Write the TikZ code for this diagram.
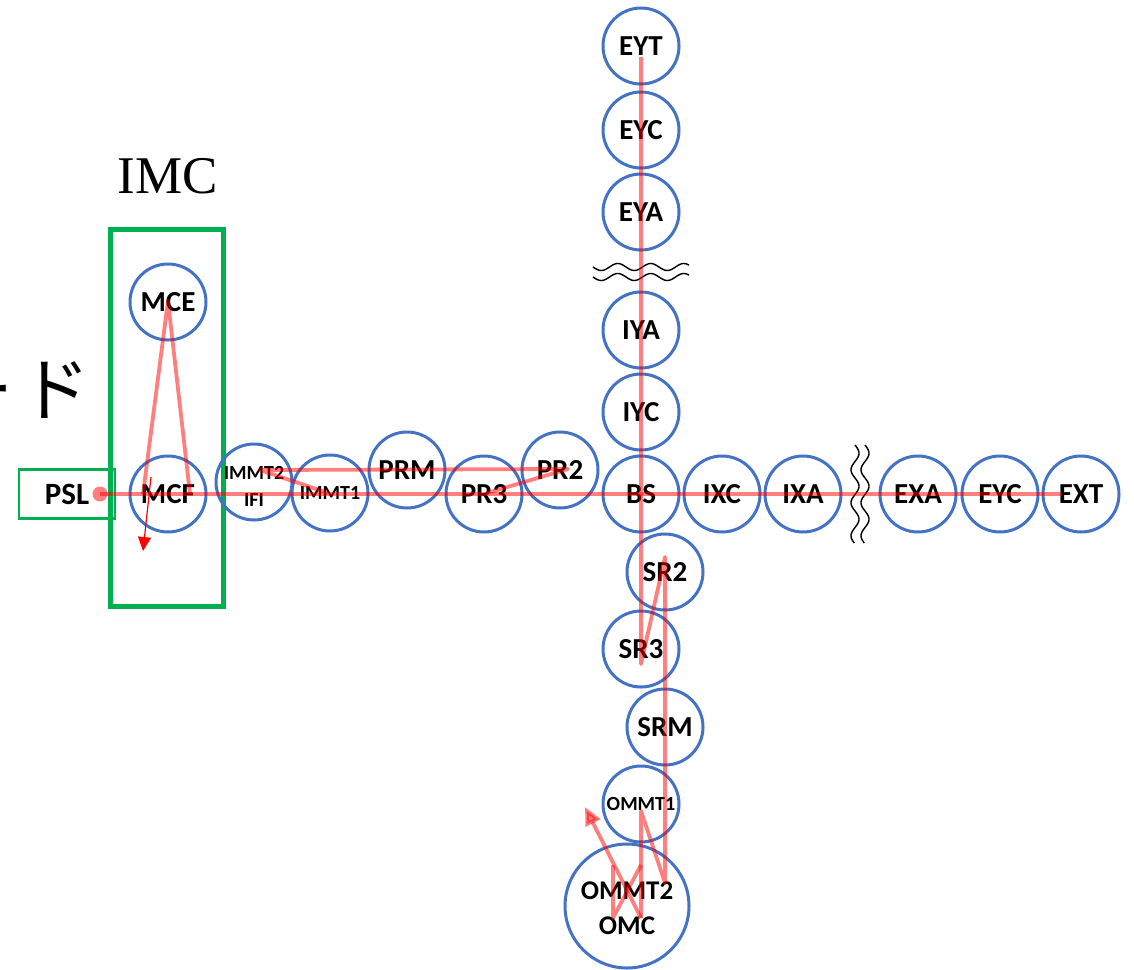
\documentclass[tikz,border=0pt]{standalone}
\usepackage{fontspec}
\newfontfamily\labfont{Carlito}[BoldFont={Carlito Bold}]
\newfontfamily\jpfont{Noto Sans CJK JP}
\newfontfamily\serifA{Liberation Serif}
\usetikzlibrary{arrows.meta}
\definecolor{cblue}{HTML}{4472C4}
\definecolor{cgreen}{HTML}{00B050}
\tikzset{
  stn/.style={circle, draw=cblue, line width=3pt, minimum size=76pt, inner sep=0pt,
    font=\labfont\bfseries\fontsize{29}{30}\selectfont},
  smallfont/.style={font=\labfont\bfseries\fontsize{20}{27}\selectfont},
  lbl/.style={inner sep=0pt, align=center},
  rline/.style={draw=red, opacity=0.5, line width=3.8pt, line join=round},
  wave/.style={black, line width=1.4pt},
  gbox/.style={draw=cgreen, inner sep=0pt},
}
\begin{document}
\begin{tikzpicture}[x=1pt,y=-1pt]
\useasboundingbox (0,0) rectangle (1134,969);

% left text and IMC label
\node[font=\jpfont\fontsize{70}{70}\selectfont, anchor=base west, inner sep=0pt] (jp) at (-57,415) {ー\kern7ptド};
\node[font=\serifA\fontsize{53}{53}\selectfont, inner sep=0pt] (imc) at (168,176) {IMC};

% green boxes
\node[gbox, line width=5pt, minimum width=113pt, minimum height=377pt] (imcbox) at (166.5,417.5) {};
\node[gbox, line width=2.8pt, minimum width=96pt, minimum height=49pt,
      font=\labfont\bfseries\fontsize{31}{32}\selectfont] (PSL) at (67,494) {PSL};

% stations
\node[stn] (EYT) at (641,46) {EYT};
\node[stn] (EYC1) at (641,130) {EYC};
\node[stn] (EYA) at (641,212) {EYA};
\node[stn] (IYA) at (641,330) {IYA};
\node[stn] (IYC) at (641,412) {IYC};
\node[stn] (BS) at (641,494) {BS};
\node[stn] (IXC) at (722,494) {IXC};
\node[stn] (IXA) at (803,494) {IXA};
\node[stn] (EXA) at (918,494) {EXA};
\node[stn] (EYC2) at (1000,494) {EYC};
\node[stn] (EXT) at (1081,494) {EXT};
\node[stn] (SR2) at (665,572) {SR2};
\node[stn] (SR3) at (641,649) {SR3};
\node[stn] (SRM) at (665,727) {SRM};
\node[stn, smallfont] (OMMT1) at (641,804) {OMMT1};
\node[stn, minimum size=124pt] (OMC) at (627,906) {};
\node[lbl, font=\labfont\bfseries\fontsize{27}{35}\selectfont] (OMCt) at (627,908) {OMMT2\\OMC};
\node[stn] (PR2) at (560,470) {PR2};
\node[stn] (PR3) at (484,494) {PR3};
\node[stn] (PRM) at (407,470) {PRM};
\node[stn, smallfont] (IMMT1) at (330,493) {IMMT1};
\node[stn] (IMMT2) at (254,482) {};
\node[lbl, smallfont] (IMMT2t) at (254,486) {IMMT2\\IFI};
\node[stn] (MCF) at (168,494) {MCF};
\node[stn] (MCE) at (168,302) {MCE};

% wavy break marks
\draw[wave] plot[domain=593:689, samples=80] (\x, {267+3.5*sin((\x-593)/33*360)});
\draw[wave] plot[domain=593:689, samples=80] (\x, {277+3.5*sin((\x-593)/33*360)});
\draw[wave] plot[domain=445:543, samples=80] ({855+4*sin((\x-445)/33*360)}, \x);
\draw[wave] plot[domain=445:543, samples=80] ({865+4*sin((\x-445)/33*360)}, \x);

% trajectory coordinates
\coordinate (h1) at (1062,494);
\coordinate (m1) at (143,494);
\coordinate (m2) at (168,301);
\coordinate (m3) at (190,494);
\coordinate (i1) at (260,470);
\coordinate (i2) at (328,493);
\coordinate (p2) at (568,469);
\coordinate (p3) at (487,493);
\coordinate (v0) at (641,57);
\coordinate (v1) at (641,664);
\coordinate (v2) at (665,557);
\coordinate (v3) at (665,883);
\coordinate (v4) at (641,811);
\coordinate (v5) at (641,918);
\coordinate (v6) at (641,865);
\coordinate (v7) at (613,918);
\coordinate (v8) at (613,865);
\coordinate (v9) at (585,807);
\coordinate (a1) at (151,477);
\coordinate (a2) at (143,551);

% start dot
\node[circle, fill=red, opacity=0.5, minimum size=15pt, inner sep=0pt] (dot) at (100,494) {};

% trajectory
\draw[rline] (dot.center) -- (h1);
\draw[rline] (m1) -- (m2) -- (m3);
\draw[rline] (i2) -- (i1) -- (p2) -- (p3);
\draw[rline] (v0) -- (v1) -- (v2) -- (v3) -- (v4) -- (v5);
\draw[rline] (v6) -- (v7) -- (v8);
\draw[rline, -{Triangle[length=18pt,width=16pt]}] (v5) -- (v9);
\draw[red, line width=1.2pt, -{Triangle[length=14pt,width=13pt]}] (a1) -- (a2);
\end{tikzpicture}
\end{document}
